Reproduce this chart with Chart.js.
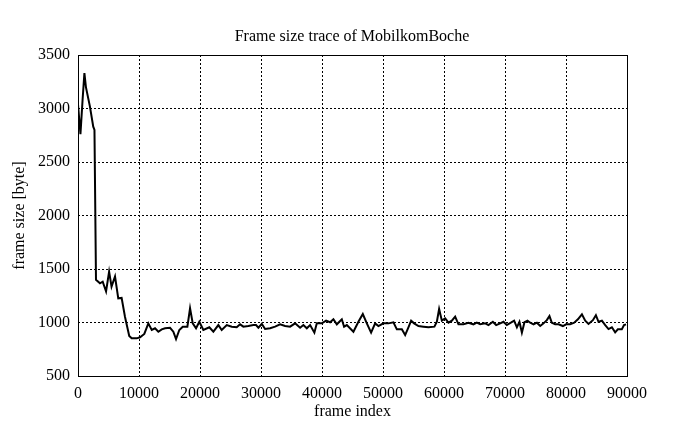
<!DOCTYPE html>
<html>
<head>
<meta charset="utf-8">
<script src="https://cdn.jsdelivr.net/npm/chart.js@4"></script>
<style>
  html, body { margin: 0; padding: 0; background: #fff; }
  #wrap { width: 695px; height: 429px; }
</style>
</head>
<body>
<div id="wrap"><canvas id="trace"></canvas></div>
<script>
// frame index values (x)
const frameIdx = [
  0, 400, 750, 1050, 1300, 1950, 2500, 2700, 2950,
  3600, 4050, 4600, 5100, 5500, 6070, 6600, 7150, 7700, 8400,
  8800, 9630, 10170, 10870, 11530, 12090, 12630, 13170, 13730, 14270,
  15090, 15630, 16070, 16610, 17170, 17930, 18370, 18810, 19350, 19890,
  20550, 21530, 22190, 23010, 23560, 24390, 25210, 26020, 26570, 27110,
  27930, 28750, 29190, 29570, 30130, 30670, 31490, 32310, 33130, 33950,
  34770, 35590, 36410, 36950, 37510, 38050, 38750, 39150, 39970, 40670,
  41330, 41870, 42430, 42850, 43250, 43620, 44070, 45150, 45970, 46690,
  47350, 48050, 48710, 49250, 50070, 50890, 51710, 52270, 53090, 53630,
  54170, 54610, 55100, 55810, 56630, 57450, 58430, 58830, 59200, 59650,
  60190, 60730, 61290, 61830, 62370, 63190, 64010, 64830, 65380, 65930,
  66750, 67290, 68010, 68550, 69210, 69750, 70300, 70960, 71500, 71950,
  72370, 72770, 73190, 73690, 74130, 74680, 75230, 75770, 76320, 76860,
  77290, 77680, 78230, 78770, 79490, 80030, 80680, 81340, 81950, 82610,
  83150, 83690, 84410, 84900, 85330, 85890, 86430, 86970, 87520, 88060,
  88500, 89150, 89510, 89840
];

// frame size in bytes (y)
const frameSize = [
  3040, 2760, 3080, 3330, 3200, 3020, 2830, 2800, 1400,
  1366, 1381, 1290, 1475, 1335, 1430, 1226, 1230, 1054, 874,
  852, 852, 862, 893, 992, 930, 946, 914, 936, 946,
  951, 914, 846, 930, 961, 961, 1133, 992, 946, 1007,
  930, 955, 914, 976, 930, 976, 961, 955, 983, 961,
  967, 976, 976, 951, 986, 939, 946, 961, 983, 967,
  961, 992, 951, 976, 946, 976, 905, 992, 992, 1017,
  1002, 1030, 983, 1007, 1030, 961, 976, 914, 1007, 1079,
  992, 905, 992, 967, 992, 992, 1002, 936, 936, 883,
  955, 1017, 992, 967, 961, 955, 961, 1007, 1126, 1017,
  1039, 998, 1017, 1054, 983, 983, 998, 983, 998, 983,
  992, 976, 1007, 976, 992, 1007, 976, 998, 1017, 955,
  1007, 905, 1002, 1017, 998, 983, 998, 967, 992, 1022,
  1060, 998, 983, 983, 967, 983, 983, 998, 1030, 1077,
  1017, 986, 1022, 1068, 1007, 1017, 976, 939, 955, 908,
  936, 936, 976, 983
];

const xTicks = [0, 10000, 20000, 30000, 40000, 50000, 60000, 70000, 80000, 90000];
const yTicks = [500, 1000, 1500, 2000, 2500, 3000, 3500];

const points = frameIdx.map((f, i) => ({ x: f, y: frameSize[i] }));

const serif = 'Liberation Serif, Times New Roman, serif';

// solid frame around the plot area
const frameBox = {
  id: 'frameBox',
  afterDraw(chart) {
    const a = chart.chartArea;
    const c = chart.ctx;
    c.save();
    c.strokeStyle = '#000';
    c.lineWidth = 1;
    c.setLineDash([]);
    c.strokeRect(a.left + 0.5, a.top + 0.5, a.right - a.left, a.bottom - a.top);
    c.restore();
  }
};

Chart.defaults.font.family = serif;
Chart.defaults.color = '#000';

new Chart(document.getElementById('trace'), {
  type: 'line',
  data: {
    datasets: [{
      data: points,
      borderColor: '#000',
      borderWidth: 2,
      pointRadius: 0,
      tension: 0,
      fill: false
    }]
  },
  options: {
    responsive: true,
    maintainAspectRatio: false,
    animation: false,
    layout: { padding: { left: 9, right: 0, top: 0, bottom: 0 } },
    plugins: {
      legend: { display: false },
      tooltip: { enabled: false },
      title: {
        display: true,
        text: 'Frame size trace of MobilkomBoche',
        font: { family: serif, size: 16, weight: 'normal' },
        color: '#000',
        padding: { top: 27.5, bottom: 8.3 }
      }
    },
    scales: {
      x: {
        type: 'linear',
        min: 0,
        max: 90000,
        afterFit(s) { s.height = 53; },
        afterBuildTicks(s) { s.ticks = xTicks.map(v => ({ value: v })); },
        ticks: { font: { size: 16 }, padding: 8, maxRotation: 0, autoSkip: false,
                 callback: v => String(v) },
        grid: { color: '#000', lineWidth: 1, drawTicks: false },
        border: { display: false, dash: [2, 2] },
        title: { display: true, text: 'frame index', font: { size: 16 }, padding: 8 }
      },
      y: {
        min: 500,
        max: 3500,
        afterFit(s) { s.width = 69; },
        afterBuildTicks(s) { s.ticks = yTicks.map(v => ({ value: v })); },
        ticks: { font: { size: 16 }, padding: 8, autoSkip: false,
                 callback: v => String(v) },
        grid: { color: '#000', lineWidth: 1, drawTicks: false },
        border: { display: false, dash: [2, 2] },
        title: { display: true, text: 'frame size [byte]', font: { size: 16 }, padding: 1.5 }
      },
      y2: {
        position: 'right',
        min: 500,
        max: 3500,
        afterFit(s) { s.width = 68; },
        ticks: { display: false },
        grid: { display: false },
        border: { display: false }
      }
    }
  },
  plugins: [frameBox]
});
</script>
</body>
</html>
